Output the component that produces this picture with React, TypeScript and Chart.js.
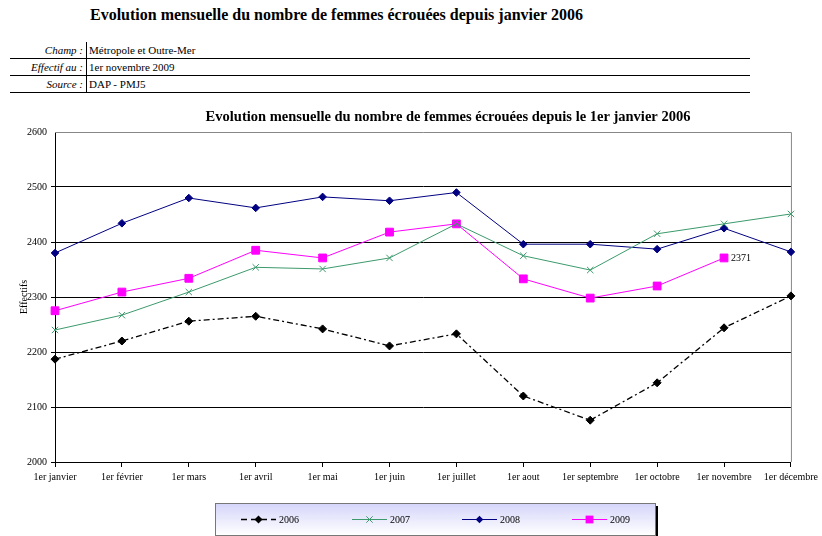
import React, { useEffect, useRef } from "react";
import { Chart, registerables } from "chart.js";

Chart.register(...registerables);

const months = [
  "1er janvier", "1er février", "1er mars", "1er avril", "1er mai", "1er juin",
  "1er juillet", "1er aout", "1er septembre", "1er octobre", "1er novembre", "1er décembre",
];
const v2006 = [2187, 2220, 2256, 2265, 2242, 2211, 2233, 2120, 2076, 2144, 2244, 2302];
const v2007 = [2240, 2267, 2309, 2354, 2351, 2371, 2433, 2375, 2349, 2415, 2433, 2451];
const v2008 = [2380, 2434, 2480, 2462, 2482, 2475, 2490, 2396, 2396, 2387, 2425, 2382];
const v2009 = [2275, 2309, 2334, 2385, 2371, 2418, 2433, 2333, 2298, 2320, 2371, null];
const yTicks = [2000, 2100, 2200, 2300, 2400, 2500, 2600];

const SERIF = "'Liberation Serif', 'DejaVu Serif', serif";
const chartTitle = "Evolution mensuelle du nombre de femmes écrouées depuis le 1er janvier 2006";

const header = {
  title: "Evolution mensuelle du nombre de femmes écrouées depuis janvier 2006",
  rows: [
    ["Champ :", "Métropole et Outre-Mer"],
    ["Effectif au :", "1er novembre 2009"],
    ["Source :", "DAP - PMJ5"],
  ],
};

function marker(ctx: CanvasRenderingContext2D, style: string, r: number, color: string, x: number, y: number) {
  ctx.save();
  ctx.fillStyle = color;
  ctx.strokeStyle = color;
  ctx.lineWidth = 1;
  ctx.setLineDash([]);
  ctx.beginPath();
  if (style === "rectRot") {
    ctx.moveTo(x, y - r);
    ctx.lineTo(x + r, y);
    ctx.lineTo(x, y + r);
    ctx.lineTo(x - r, y);
    ctx.closePath();
    ctx.fill();
  } else if (style === "rect") {
    const s = r * Math.SQRT1_2;
    ctx.fillRect(x - s, y - s, 2 * s, 2 * s);
  } else if (style === "crossRot") {
    const s = r * Math.SQRT1_2;
    ctx.moveTo(x - s, y - s);
    ctx.lineTo(x + s, y + s);
    ctx.moveTo(x + s, y - s);
    ctx.lineTo(x - s, y + s);
    ctx.stroke();
  }
  ctx.restore();
}

export default function App() {
  const ref = useRef<HTMLCanvasElement>(null);

  useEffect(() => {
    if (!ref.current) return;

    const frame = {
      id: "frame",
      beforeDatasetsDraw(chart: any) {
        const { ctx, chartArea: a } = chart;
        ctx.save();
        ctx.strokeStyle = "#888888";
        ctx.lineWidth = 1;
        ctx.beginPath();
        ctx.moveTo(a.left, a.top + 0.5);
        ctx.lineTo(a.right + 0.5, a.top + 0.5);
        ctx.lineTo(a.right + 0.5, a.bottom);
        ctx.stroke();
        ctx.restore();
      },
    };

    const extras = {
      id: "extras",
      afterDraw(chart: any) {
        const { ctx } = chart;
        ctx.save();
        ctx.font = `bold 14.5px ${SERIF}`;
        ctx.fillStyle = "#000";
        ctx.textAlign = "center";
        ctx.textBaseline = "middle";
        ctx.fillText(chartTitle, 448, 17);

        const meta = chart.getDatasetMeta(3);
        let lastIdx = -1;
        v2009.forEach((v, i) => { if (v !== null) lastIdx = i; });
        const pt = meta.data[lastIdx];
        ctx.font = `10px ${SERIF}`;
        ctx.fillStyle = "#000";
        ctx.textBaseline = "middle";
        ctx.textAlign = "left";
        ctx.fillText(String(v2009[lastIdx]), pt.x + 7, pt.y);

        const bx = 215, by = 403, bw = 440, bh = 32;
        ctx.fillStyle = "#000";
        ctx.fillRect(bx + 3, by + 3, bw, bh);
        const g = ctx.createLinearGradient(0, by, 0, by + bh);
        g.addColorStop(0, "#d4d4fa");
        g.addColorStop(1, "#ffffff");
        ctx.fillStyle = g;
        ctx.fillRect(bx, by, bw, bh);
        ctx.strokeStyle = "#777";
        ctx.lineWidth = 1;
        ctx.strokeRect(bx + 0.5, by + 0.5, bw, bh);

        const items = [
          { x: 241, ds: 0 },
          { x: 352, ds: 1 },
          { x: 462, ds: 2 },
          { x: 572, ds: 3 },
        ];
        const ly = by + 16;
        items.forEach((it) => {
          const ds: any = chart.data.datasets[it.ds];
          ctx.save();
          ctx.strokeStyle = ds.borderColor;
          ctx.lineWidth = ds.borderWidth;
          ctx.setLineDash(it.ds === 0 ? [6, 4] : []);
          ctx.beginPath();
          ctx.moveTo(it.x, ly + 0.5);
          ctx.lineTo(it.x + 35, ly + 0.5);
          ctx.stroke();
          ctx.restore();
          marker(ctx, ds.pointStyle, ds.pointRadius, ds.borderColor, it.x + 17.5, ly + 0.5);
          ctx.fillStyle = "#000";
          ctx.font = `10px ${SERIF}`;
          ctx.textAlign = "left";
          ctx.textBaseline = "middle";
          ctx.fillText(ds.label, it.x + 38, ly + 1);
        });
        ctx.restore();
      },
    };

    const chart = new Chart(ref.current, {
      type: "line",
      data: {
        labels: months,
        datasets: [
          {
            label: "2006",
            data: v2006,
            borderColor: "#000000",
            backgroundColor: "#000000",
            borderWidth: 1.3,
            borderDash: [6, 3, 2, 3],
            pointStyle: "rectRot",
            pointRadius: 4,
            pointBorderWidth: 1,
          },
          {
            label: "2007",
            data: v2007,
            borderColor: "#3c9a6c",
            backgroundColor: "#3c9a6c",
            borderWidth: 1,
            pointStyle: "crossRot",
            pointRadius: 4.5,
            pointBorderWidth: 1,
          },
          {
            label: "2008",
            data: v2008,
            borderColor: "#000080",
            backgroundColor: "#000080",
            borderWidth: 1,
            pointStyle: "rectRot",
            pointRadius: 3.8,
            pointBorderWidth: 1,
          },
          {
            label: "2009",
            data: v2009,
            borderColor: "#ff00ff",
            backgroundColor: "#ff00ff",
            borderWidth: 1,
            pointStyle: "rect",
            pointRadius: 5.5,
            pointBorderWidth: 1,
          },
        ],
      },
      options: {
        animation: false,
        responsive: false,
        maintainAspectRatio: false,
        spanGaps: false,
        layout: { padding: { left: 0, right: 29, top: 32, bottom: 0 } },
        plugins: {
          legend: { display: false },
          tooltip: { enabled: false },
          title: { display: false },
        },
        scales: {
          x: {
            offset: false,
            grid: {
              display: true,
              drawOnChartArea: false,
              drawTicks: true,
              tickLength: 5,
              color: "#000",
            },
            border: { display: true, color: "#000", width: 1 },
            ticks: {
              color: "#000",
              font: { family: SERIF, size: 10 },
              padding: 4,
              maxRotation: 0,
              autoSkip: false,
            },
            afterFit(scale: any) { scale.height = 74; },
          },
          y: {
            min: 2000,
            max: 2600,
            afterBuildTicks(scale: any) { scale.ticks = yTicks.map((v) => ({ value: v })); },
            grid: {
              color: (c: any) => (c.tick && c.tick.value === 2600 ? "rgba(0,0,0,0)" : "#000"),
              drawTicks: true,
              tickLength: 4,
              lineWidth: 1,
            },
            border: { display: true, color: "#000", width: 1 },
            ticks: {
              color: "#000",
              font: { family: SERIF, size: 10 },
              padding: 4,
              callback: (v: any) => String(v),
            },
            title: {
              display: true,
              text: "Effectifs",
              color: "#000",
              font: { family: SERIF, size: 10 },
              padding: { top: 18, bottom: 0 },
            },
            afterFit(scale: any) { scale.width = 55; },
          },
        },
      },
      plugins: [frame, extras],
    } as any);
    return () => chart.destroy();
  }, []);

  const lineStyle: React.CSSProperties = {
    position: "absolute",
    left: 10,
    width: 740,
    height: 0,
    borderTop: "1.5px solid #000",
  };

  return (
    <div style={{ position: "absolute", left: 0, top: 0, width: 822, height: 536, background: "#fff", overflow: "hidden", fontFamily: SERIF }}>
      <div style={{ position: "absolute", left: 90, top: 5, fontSize: 16, fontWeight: "bold", whiteSpace: "nowrap", lineHeight: "20px" }}>
        {header.title}
      </div>
      <div style={{ position: "absolute", left: 86, top: 42, width: 0, height: 51, borderLeft: "1px solid #000" }} />
      {header.rows.map((r, i) => (
        <React.Fragment key={i}>
          <div style={{ position: "absolute", right: 822 - 83, top: 42 + i * 17, fontSize: 11, fontStyle: "italic", lineHeight: "17px", whiteSpace: "nowrap" }}>
            {r[0]}
          </div>
          <div style={{ position: "absolute", left: 89, top: 42 + i * 17, fontSize: 11, lineHeight: "17px", whiteSpace: "nowrap" }}>
            {r[1]}
          </div>
          <div style={{ ...lineStyle, top: 58 + i * 17 }} />
        </React.Fragment>
      ))}
      <canvas ref={ref} width={822} height={436} style={{ position: "absolute", left: 0, top: 100, width: 822, height: 436 }} />
    </div>
  );
}
